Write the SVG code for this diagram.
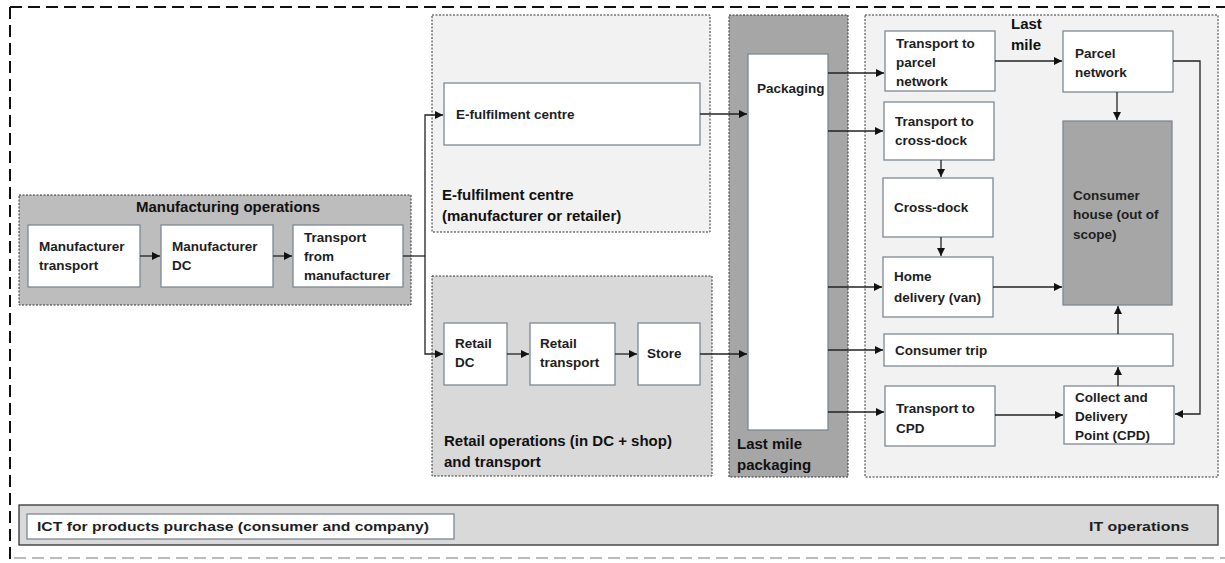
<svg xmlns="http://www.w3.org/2000/svg" width="1225" height="563" viewBox="0 0 1225 563">
<defs>
<marker id="ah" viewBox="0 0 10 10" refX="10" refY="5" markerWidth="8" markerHeight="8" markerUnits="userSpaceOnUse" orient="auto"><path d="M0,0 L10,5 L0,10 z" fill="#111"/></marker>
<style>
.grp{stroke:#333;stroke-width:1;stroke-dasharray:2,1.5}
.box{fill:#fff;stroke:#7d8893;stroke-width:1.3}
.t{font-family:"Liberation Sans",Arial,sans-serif;font-size:13.5px;font-weight:bold;fill:#1e1e1e}
.g{font-family:"Liberation Sans",Arial,sans-serif;font-size:15px;font-weight:bold;fill:#111}
.c{fill:none;stroke:#222;stroke-width:1.3}
.ca{fill:none;stroke:#222;stroke-width:1.3;marker-end:url(#ah)}
</style>
</defs>
<rect width="1225" height="563" fill="#fff"/>
<g id="outer">
<path d="M10,7 H1225" stroke="#111" stroke-width="2" stroke-dasharray="12,6" fill="none"/>
<path d="M10,7 V563" stroke="#111" stroke-width="2" stroke-dasharray="12,6" fill="none"/>
<path d="M14,558 H1225" stroke="#bbb" stroke-width="2" stroke-dasharray="12,6" fill="none"/>
</g>
<g id="manufacturing">
<rect class="grp" x="19" y="195" width="392" height="110" fill="#bdbdbd"/>
<text class="g" x="228" y="212" text-anchor="middle" font-size="15.5">Manufacturing operations</text>
</g>
<g id="manufacturer-transport"><rect class="box" x="28" y="225" width="112" height="62"/><text class="t" x="39" y="251">Manufacturer</text><text class="t" x="39" y="270">transport</text></g>
<g id="manufacturer-dc"><rect class="box" x="161" y="225" width="112" height="62"/><text class="t" x="172" y="251">Manufacturer</text><text class="t" x="172" y="270">DC</text></g>
<g id="transport-from-manufacturer"><rect class="box" x="293" y="225" width="110" height="62"/><text class="t" x="304" y="242">Transport</text><text class="t" x="304" y="261">from</text><text class="t" x="304" y="280">manufacturer</text></g>

<g id="efulfilment-group">
<rect class="grp" x="432" y="15" width="278" height="217" fill="#f2f2f2"/>
<text class="g" x="442" y="200">E-fulfilment centre</text>
<text class="g" x="442" y="221">(manufacturer or retailer)</text>
</g>
<g id="efulfilment-centre"><rect class="box" x="444" y="83" width="256" height="62"/><text class="t" x="456" y="119">E-fulfilment  centre</text></g>

<g id="retail-group">
<rect class="grp" x="432" y="276" width="280" height="200" fill="#d9d9d9"/>
<text class="g" x="444" y="446">Retail operations (in DC + shop)</text>
<text class="g" x="444" y="467">and transport</text>
</g>
<g id="retail-dc"><rect class="box" x="444" y="323" width="63" height="62"/><text class="t" x="455" y="348">Retail</text><text class="t" x="455" y="367">DC</text></g>
<g id="retail-transport"><rect class="box" x="530" y="323" width="85" height="62"/><text class="t" x="540" y="348">Retail</text><text class="t" x="540" y="367">transport</text></g>
<g id="store"><rect class="box" x="638" y="323" width="62" height="62"/><text class="t" x="647" y="358">Store</text></g>

<g id="packaging-group">
<rect class="grp" x="729" y="15" width="119" height="462" fill="#a6a6a6"/>
<text class="g" x="737" y="449">Last mile</text>
<text class="g" x="737" y="470">packaging</text>
</g>
<g id="packaging"><rect class="box" x="748" y="54" width="80" height="376"/><text class="t" x="757" y="93">Packaging</text></g>

<g id="lastmile-group">
<rect class="grp" x="865" y="15" width="353" height="462" fill="#f2f2f2"/>
<text class="g" x="1011" y="29">Last</text>
<text class="g" x="1011" y="50">mile</text>
</g>
<g id="transport-parcel"><rect class="box" x="885" y="31" width="110" height="60"/><text class="t" x="896" y="48">Transport to</text><text class="t" x="896" y="67">parcel</text><text class="t" x="896" y="86">network</text></g>
<g id="parcel-network"><rect class="box" x="1063" y="31" width="110" height="61"/><text class="t" x="1075" y="58">Parcel</text><text class="t" x="1075" y="77">network</text></g>
<g id="transport-crossdock"><rect class="box" x="884" y="102" width="110" height="58"/><text class="t" x="895" y="126">Transport to</text><text class="t" x="895" y="145">cross-dock</text></g>
<g id="crossdock"><rect class="box" x="883" y="178" width="110" height="59"/><text class="t" x="894" y="212">Cross-dock</text></g>
<g id="home-delivery"><rect class="box" x="883" y="257" width="110" height="60"/><text class="t" x="894" y="281">Home</text><text class="t" x="894" y="302">delivery (van)</text></g>
<g id="consumer-house"><rect x="1063" y="121" width="109" height="184" fill="#a6a6a6" stroke="#7d8893" stroke-width="1.3"/><text class="t" x="1073" y="200">Consumer</text><text class="t" x="1073" y="219">house (out of</text><text class="t" x="1073" y="239">scope)</text></g>
<g id="consumer-trip"><rect class="box" x="884" y="334" width="289" height="32"/><text class="t" x="895" y="355">Consumer trip</text></g>
<g id="transport-cpd"><rect class="box" x="885" y="386" width="110" height="60"/><text class="t" x="896" y="413">Transport to</text><text class="t" x="896" y="433">CPD</text></g>
<g id="cpd"><rect class="box" x="1064" y="386" width="110" height="58"/><text class="t" x="1075" y="402">Collect and</text><text class="t" x="1075" y="421">Delivery</text><text class="t" x="1075" y="440">Point (CPD)</text></g>

<g id="it-operations">
<rect x="19" y="505" width="1199" height="40" fill="#d9d9d9" stroke="#333" stroke-width="1.3"/>
<rect class="box" x="27" y="514" width="427" height="25"/>
<text class="t" x="37" y="531" textLength="392" lengthAdjust="spacingAndGlyphs">ICT  for products purchase (consumer and company)</text>
<text class="t" x="1089" y="531" textLength="100" lengthAdjust="spacingAndGlyphs">IT operations</text>
</g>

<g id="connectors">
<path class="ca" d="M140,256 H160"/>
<path class="ca" d="M273,256 H292"/>
<path class="c" d="M403,256 H425"/>
<path class="ca" d="M425,256 V115 H443"/>
<path class="ca" d="M425,256 V354 H443"/>
<path class="ca" d="M507,354 H529"/>
<path class="ca" d="M615,354 H637"/>
<path class="ca" d="M700,354 H747"/>
<path class="ca" d="M700,114 H747"/>
<path class="ca" d="M828,73 H884"/>
<path class="ca" d="M828,131 H883"/>
<path class="ca" d="M828,287 H882"/>
<path class="ca" d="M828,350 H883"/>
<path class="ca" d="M828,412 H884"/>
<path class="ca" d="M995,61 H1062"/>
<path class="ca" d="M941,160 V177"/>
<path class="ca" d="M941,237 V256"/>
<path class="ca" d="M1117,92 V120"/>
<path class="ca" d="M993,287 H1062"/>
<path class="ca" d="M1118,334 V306"/>
<path class="ca" d="M1118,386 V367"/>
<path class="ca" d="M995,415 H1063"/>
<path class="ca" d="M1173,61 H1200 V414 H1175"/>
</g>
</svg>
